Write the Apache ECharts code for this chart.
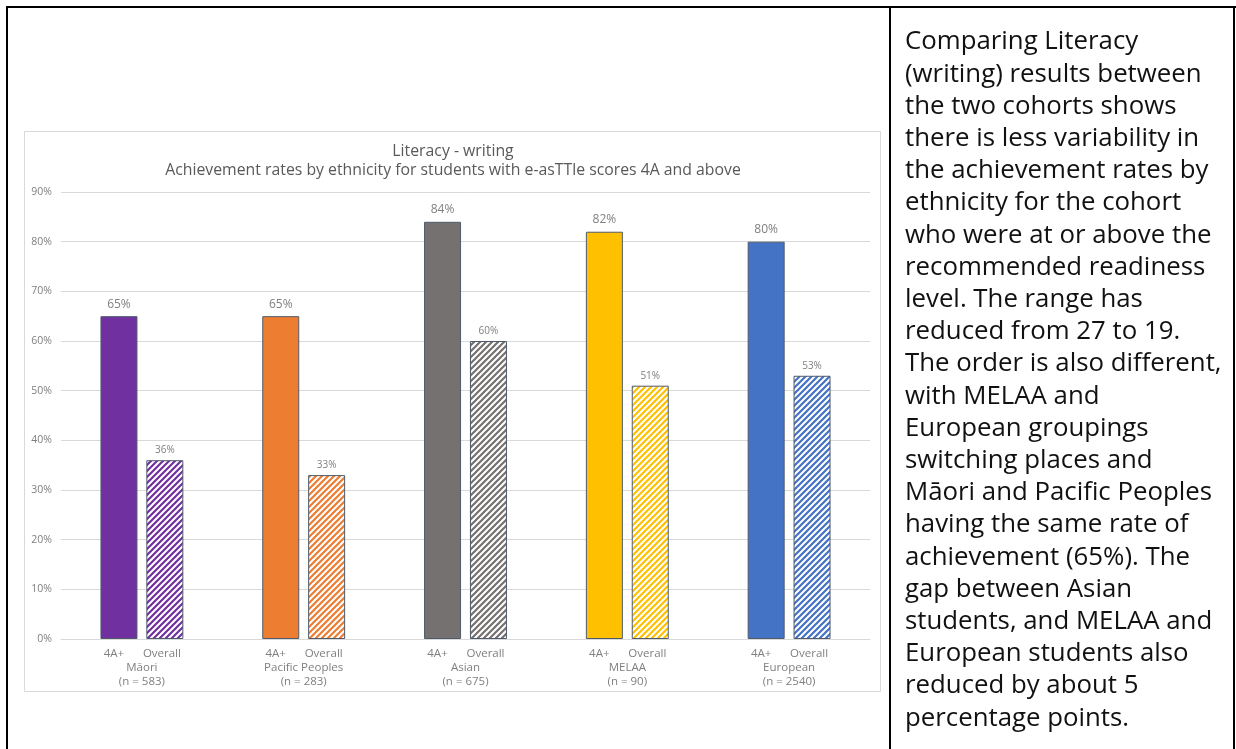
<!DOCTYPE html>
<html>
<head>
<meta charset="utf-8">
<title>Literacy - writing</title>
<script src="https://cdn.jsdelivr.net/npm/echarts@6/dist/echarts.min.js"></script>
<style>
  html, body { margin: 0; padding: 0; background: #fff; }
  #chart { width: 1236px; height: 749px; }
</style>
</head>
<body>
<div id="chart"></div>
<script>
// Ethnic groupings, cohort sizes and achievement rates (%)
const categories = ['Māori', 'Pacific Peoples', 'Asian', 'MELAA', 'European'];
const cohortSizes = ['583', '283', '675', '90', '2540'];
const rate4APlus = [65, 65, 84, 82, 80];
const rateOverall = [36, 33, 60, 51, 53];
const groupColors = ['#7030A0', '#ED7D31', '#767171', '#FFC000', '#4472C4'];
const yTicks = [0, 10, 20, 30, 40, 50, 60, 70, 80, 90];

const commentary = [
  'Comparing Literacy',
  '(writing) results between',
  'the two cohorts shows',
  'there is less variability in',
  'the achievement rates by',
  'ethnicity for the cohort',
  'who were at or above the',
  'recommended readiness',
  'level. The range has',
  'reduced from 27 to 19.',
  'The order is also different,',
  'with MELAA and',
  'European groupings',
  'switching places and',
  'Māori and Pacific Peoples',
  'having the same rate of',
  'achievement (65%). The',
  'gap between Asian',
  'students, and MELAA and',
  'European students also',
  'reduced by about 5',
  'percentage points.'
];

const FONT = '"Open Sans", "Noto Sans", sans-serif';
const GREY = '#7f7f7f';

// Diagonal hatch tile for the "Overall" bars
function hatch(color) {
  const s = 6;
  const c = document.createElement('canvas');
  c.width = s; c.height = s;
  const g = c.getContext('2d');
  g.fillStyle = '#ffffff';
  g.fillRect(0, 0, s, s);
  g.strokeStyle = color;
  g.lineWidth = 2.2;
  g.beginPath();
  g.moveTo(0, s); g.lineTo(s, 0);
  g.moveTo(-s / 2, s / 2); g.lineTo(s / 2, -s / 2);
  g.moveTo(s / 2, s * 1.5); g.lineTo(s * 1.5, s / 2);
  g.stroke();
  return { image: c, repeat: 'repeat' };
}

const chart = echarts.init(document.getElementById('chart'), null, { renderer: 'canvas' });

const option = {
  backgroundColor: '#ffffff',
  animation: false,
  textStyle: { fontFamily: FONT },
  title: {
    text: 'Literacy - writing\nAchievement rates by ethnicity for students with e-asTTle scores 4A and above',
    left: 453,
    textAlign: 'center',
    top: 142,
    padding: 0,
    textStyle: { fontFamily: FONT, fontSize: 15.8, fontWeight: 'normal', color: '#595959', lineHeight: 19 }
  },
  grid: { left: 61, right: 366, top: 192, bottom: 110, containLabel: false },
  xAxis: {
    type: 'category',
    data: categories,
    axisLine: { lineStyle: { color: '#d9d9d9', width: 1 } },
    axisTick: { show: false },
    axisLabel: {
      margin: 8,
      interval: 0,
      color: GREY,
      fontFamily: FONT,
      fontSize: 11.5,
      lineHeight: 14,
      formatter: function (val, idx) {
        return '{a|4A+}{b|Overall}\n{g|' + val + '}\n{g|(n = ' + cohortSizes[idx] + ')}';
      },
      rich: {
        a: { width: 40, align: 'center', fontSize: 11.5, color: GREY, lineHeight: 14, fontFamily: FONT },
        b: { width: 56, align: 'center', fontSize: 11.5, color: GREY, lineHeight: 14, fontFamily: FONT },
        g: { align: 'center', fontSize: 11.5, color: GREY, lineHeight: 14, fontFamily: FONT }
      }
    }
  },
  yAxis: {
    type: 'value',
    min: yTicks[0],
    max: yTicks[yTicks.length - 1],
    interval: yTicks[1] - yTicks[0],
    axisLine: { show: false },
    axisTick: { show: false },
    splitLine: { lineStyle: { color: '#d9d9d9', width: 1 } },
    axisLabel: { formatter: '{value}%', color: GREY, fontSize: 10.5, margin: 9, fontFamily: FONT }
  },
  series: [
    {
      name: '4A+',
      type: 'bar',
      barWidth: 37,
      barGap: '24%',
      data: rate4APlus.map((v, i) => ({ value: v, itemStyle: { color: groupColors[i] } })),
      itemStyle: { borderColor: '#4f5b6b', borderWidth: 1 },
      label: { show: true, position: 'top', distance: 6, formatter: '{c}%', color: GREY, fontSize: 12, fontFamily: FONT }
    },
    {
      name: 'Overall',
      type: 'bar',
      barWidth: 37,
      barGap: '24%',
      data: rateOverall.map((v, i) => ({ value: v, itemStyle: { color: hatch(groupColors[i]) } })),
      itemStyle: { borderColor: '#4f5b6b', borderWidth: 1 },
      label: { show: true, position: 'top', distance: 5, formatter: '{c}%', color: GREY, fontSize: 10, fontFamily: FONT }
    }
  ],
  graphic: [
    // chart frame
    { type: 'rect', silent: true, z: 0,
      shape: { x: 24.5, y: 131.5, width: 856, height: 560 },
      style: { fill: 'none', stroke: '#d9d9d9', lineWidth: 1 } },
    // table borders
    { type: 'line', silent: true, z: 10, shape: { x1: 6, y1: 7, x2: 1236, y2: 7 }, style: { stroke: '#000', lineWidth: 2 } },
    { type: 'line', silent: true, z: 10, shape: { x1: 7, y1: 6, x2: 7, y2: 749 }, style: { stroke: '#000', lineWidth: 2 } },
    { type: 'line', silent: true, z: 10, shape: { x1: 890, y1: 6, x2: 890, y2: 749 }, style: { stroke: '#000', lineWidth: 2 } },
    { type: 'line', silent: true, z: 10, shape: { x1: 1234, y1: 6, x2: 1234, y2: 749 }, style: { stroke: '#000', lineWidth: 2 } },
    // commentary column
    { type: 'text', silent: true, z: 10, left: 905, top: 26,
      style: { text: commentary.join('\n'), font: '25.8px ' + FONT, fill: '#111111', lineHeight: 32.2 } }
  ]
};

chart.setOption(option);
</script>
</body>
</html>
